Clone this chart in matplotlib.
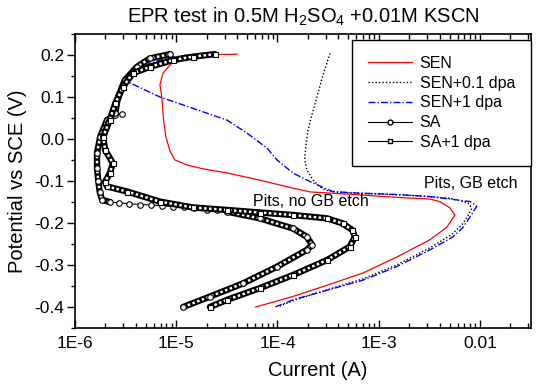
import matplotlib
matplotlib.use("Agg")
import matplotlib.pyplot as plt
from matplotlib.lines import Line2D
from matplotlib.ticker import FixedLocator, LogLocator, MultipleLocator, NullFormatter

plt.rcParams["font.family"] = ["Liberation Sans", "DejaVu Sans"]
plt.rcParams["mathtext.fontset"] = "custom"
plt.rcParams["mathtext.rm"] = "Liberation Sans"

# SEN (red)
sen_i = [6.1e-5, 1.42e-4, 3.1e-4, 7.0e-4, 1.51e-3, 3.2e-3, 4.7e-3, 5.66e-3, 5.05e-3, 4.0e-3,
         3.2e-3, 1.5e-3, 6.5e-4, 2.1e-4, 1.42e-4, 6.7e-5, 3.2e-5, 1.84e-5, 1.28e-5, 9.7e-6,
         8.7e-6, 7.9e-6, 7.5e-6, 7.2e-6, 6.9e-6, 7.4e-6, 9.3e-6, 1.46e-5, 4.0e-5]
sen_e = [-0.400, -0.375, -0.348, -0.319, -0.281, -0.240, -0.210, -0.181, -0.164, -0.149,
         -0.143, -0.139, -0.133, -0.126, -0.117, -0.098, -0.081, -0.071, -0.062, -0.050,
         -0.030, 0.005, 0.045, 0.100, 0.129, 0.157, 0.184, 0.200, 0.202]

# SEN+0.1 dpa (black dotted)
sen01_i = [1.05e-4, 1.5e-4, 3.2e-4, 7.0e-4, 1.5e-3, 3.2e-3, 5.2e-3, 6.6e-3, 7.6e-3, 8.3e-3,
           7.6e-3, 5.0e-3, 2.0e-3, 8.0e-4, 4.0e-4, 3.0e-4, 2.6e-4, 2.25e-4, 1.95e-4, 1.86e-4,
           1.9e-4, 2.0e-4, 2.2e-4, 2.45e-4, 2.8e-4, 3.3e-4]
sen01_e = [-0.398, -0.383, -0.358, -0.333, -0.300, -0.259, -0.228, -0.205, -0.183, -0.165,
           -0.152, -0.141, -0.134, -0.130, -0.127, -0.122, -0.113, -0.098, -0.074, -0.050,
           -0.020, 0.021, 0.060, 0.100, 0.150, 0.204]

# SEN+1 dpa (blue dash-dot)
sen1_i = [9.5e-5, 1.42e-4, 3.1e-4, 7.0e-4, 1.5e-3, 3.2e-3, 5.4e-3, 6.7e-3, 8.0e-3, 9.3e-3,
          8.0e-3, 3.2e-3, 1.2e-3, 6.5e-4, 3.5e-4, 2.25e-4, 1.42e-4, 9.9e-5, 7.9e-5, 5.0e-5,
          3.17e-5, 1.46e-5, 6.9e-6, 3.26e-6, 3.8e-6, 5.5e-6, 8.0e-6, 1.3e-5, 2.5e-5]
sen1_e = [-0.400, -0.383, -0.360, -0.336, -0.304, -0.264, -0.233, -0.212, -0.185, -0.160,
          -0.149, -0.137, -0.131, -0.129, -0.125, -0.105, -0.081, -0.050, -0.022, 0.014,
          0.045, 0.073, 0.100, 0.137, 0.160, 0.180, 0.193, 0.200, 0.201]

# SA (circles)
sa_i = [1.17e-5, 2.16e-5, 4.55e-5, 9.9e-5, 1.95e-4, 2.2e-4, 1.95e-4, 1.42e-4, 6.7e-5, 3.17e-5,
        2.5e-5, 2.0e-5, 1.5e-5, 1.2e-5, 9.3e-6, 7.2e-6, 5.6e-6, 4.4e-6, 3.4e-6, 2.7e-6,
        2.2e-6, 1.85e-6, 1.75e-6, 1.7e-6, 1.65e-6, 1.65e-6, 1.77e-6, 2.07e-6, 2.5e-6, 2.9e-6,
        2.5e-6, 2.66e-6, 3.1e-6, 4.1e-6, 5.5e-6, 8.7e-6]
sa_e = [-0.400, -0.375, -0.344, -0.304, -0.264, -0.252, -0.233, -0.213, -0.189, -0.173,
        -0.170, -0.168, -0.165, -0.163, -0.161, -0.159, -0.157, -0.156, -0.154, -0.152,
        -0.150, -0.145, -0.125, -0.100, -0.070, -0.033, 0.005, 0.045, 0.058, 0.060,
        0.062, 0.100, 0.140, 0.172, 0.192, 0.202]
sa_dense = [(0, 10), (20, 29), (30, 36)]

# SA+1 dpa (squares)
sa1_i = [2.15e-5, 3.17e-5, 6.7e-5, 1.42e-4, 3.1e-4, 5.2e-4, 5.8e-4, 5.5e-4, 4.4e-4, 3.1e-4,
         1.42e-4, 6.7e-5, 3.17e-5, 1.46e-5, 6.9e-6, 3.26e-6, 2.07e-6, 1.98e-6, 2.2e-6, 2.37e-6,
         1.98e-6, 1.9e-6, 2.2e-6, 2.5e-6, 3.0e-6, 3.7e-6, 5.5e-6, 9.3e-6, 1.46e-5, 2.4e-5]
sa1_e = [-0.400, -0.383, -0.355, -0.324, -0.288, -0.256, -0.233, -0.217, -0.201, -0.189,
         -0.181, -0.175, -0.169, -0.163, -0.149, -0.125, -0.113, -0.102, -0.082, -0.058,
         -0.026, 0.005, 0.045, 0.085, 0.125, 0.156, 0.172, 0.188, 0.196, 0.202]
sa1_dense = [(0, 30)]

fig = plt.figure(figsize=(5.36, 3.88), dpi=100)
ax = fig.add_axes([75 / 536, 1 - 328 / 388, 456 / 536, 294 / 388])

dot = (0, (1, 1.5))
dashdot = (0, (5, 1.5, 1, 1.5))

ax.plot(sen_i, sen_e, color="red", lw=0.9)
ax.plot(sen01_i, sen01_e, color="black", lw=1.0, linestyle=dot)
ax.plot(sen1_i, sen1_e, color="blue", lw=1.0, linestyle=dashdot)


def draw_marked(xs, ys, dense, marker, ms):
    ax.plot(xs, ys, color="black", lw=0.8)
    # dense runs of overlapping open markers look like a speckled black band
    for a, b in dense:
        ax.plot(xs[a:b], ys[a:b], color="black", lw=4.6, solid_capstyle="round",
                solid_joinstyle="round")
        ax.plot(xs[a:b], ys[a:b], color="white", lw=1.8, linestyle=(0, (1.0, 1.0)),
                dash_joinstyle="round")
    ax.plot(xs, ys, linestyle="none", marker=marker, ms=ms, mfc="white",
            mec="black", mew=0.8)


draw_marked(sa_i, sa_e, sa_dense, "o", 4)
draw_marked(sa1_i, sa1_e, sa1_dense, "s", 3.6)

ax.set_xscale("log")
ax.set_xlim(1e-6, 0.0319)
ax.set_ylim(-0.45, 0.25)

ax.xaxis.set_major_locator(FixedLocator([1e-6, 1e-5, 1e-4, 1e-3, 1e-2]))
ax.set_xticklabels(["1E-6", "1E-5", "1E-4", "1E-3", "0.01"])
ax.xaxis.set_minor_locator(LogLocator(base=10, subs=range(2, 10), numticks=20))
ax.xaxis.set_minor_formatter(NullFormatter())
ax.yaxis.set_minor_locator(MultipleLocator(0.05))
ax.set_yticks([0.2, 0.1, 0.0, -0.1, -0.2, -0.3, -0.4])
ax.set_yticklabels(["0.2", "0.1", "0.0", "-0.1", "-0.2", "-0.3", "-0.4"])

ax.tick_params(axis="x", which="both", direction="in", top=True, bottom=True,
               labelsize=12.5, pad=6, width=1.0)
ax.tick_params(axis="x", which="major", length=6)
ax.tick_params(axis="x", which="minor", length=3.5)
ax.tick_params(axis="y", which="both", direction="out", left=True, right=False,
               labelsize=12.5, pad=2, width=1.0)
ax.tick_params(axis="y", which="major", length=5.5)
ax.tick_params(axis="y", which="minor", length=3)
for s in ax.spines.values():
    s.set_linewidth(1.2)

fig.text(303 / 536, 1 - 17 / 388,
         r"EPR test in 0.5M H$_\mathregular{2}$SO$_\mathregular{4}$ +0.01M KSCN",
         ha="center", va="center", fontsize=14.5)
fig.text(318 / 536, 1 - 371 / 388, "Current (A)", ha="center", va="center", fontsize=14.5)
fig.text(18 / 536, 1 - 181 / 388, "Potential vs SCE (V)", ha="center", va="center",
         rotation=90, fontsize=14.5)

ax.text(2.8e-3, -0.107, "Pits, GB etch", fontsize=11.5, ha="left", va="center")
ax.text(5.7e-5, -0.150, "Pits, no GB etch", fontsize=11.5, ha="left", va="center")

handles = [
    Line2D([], [], color="red", lw=0.9),
    Line2D([], [], color="black", lw=1.0, linestyle=dot),
    Line2D([], [], color="blue", lw=1.0, linestyle=dashdot),
    Line2D([], [], color="black", lw=0.8, marker="o", ms=3.5, mfc="white", mec="black"),
    Line2D([], [], color="black", lw=0.8, marker="s", ms=3, mfc="white", mec="black"),
]
labels = ["SEN", "SEN+0.1 dpa", "SEN+1 dpa", "SA", "SA+1 dpa"]
leg = ax.legend(handles, labels, loc="upper right", bbox_to_anchor=(1.0, 0.98),
                borderaxespad=0, fontsize=11.5, frameon=True, fancybox=False,
                framealpha=1, edgecolor="black", handlelength=2.8, handletextpad=0.45,
                labelspacing=0.3, borderpad=1.0)
leg.get_frame().set_linewidth(1.0)

fig.savefig("out.png", dpi=100)
